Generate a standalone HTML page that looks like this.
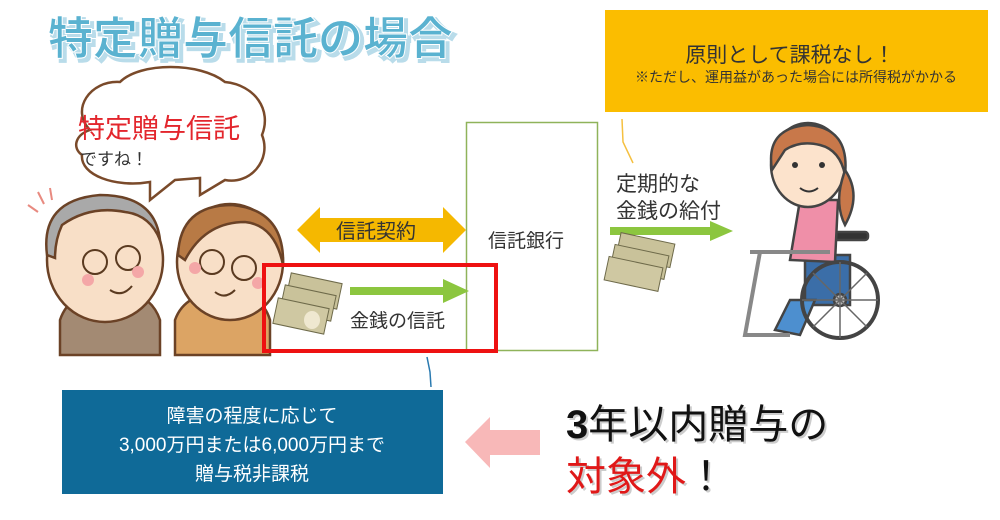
<!DOCTYPE html>
<html><head><meta charset="utf-8"><style>
html,body{margin:0;padding:0;background:#fff;}
svg{display:block;font-family:"Liberation Sans","Noto Sans CJK JP",sans-serif;}
</style></head><body>
<svg width="1000" height="520" viewBox="0 0 1000 520" xmlns="http://www.w3.org/2000/svg">
<!-- Title -->
<text x="48" y="54" font-size="45" font-weight="bold" fill="#b9dcea" stroke="#b9dcea" stroke-width="3" transform="translate(3,3)">特定贈与信託の場合</text>
<text x="48" y="54" font-size="45" font-weight="bold" fill="#5ab2d0" stroke="#fff" stroke-width="1">特定贈与信託の場合</text>

<!-- speech cloud -->
<path d="M90,130 C70,110 90,80 120,82 C140,62 200,62 225,82 C255,85 272,110 262,135 C272,160 250,185 225,180 L200,195 L200,178 L175,180 L150,200 L150,182 C115,188 80,175 82,155 C72,148 75,135 90,130 Z" fill="#fff" stroke="#7a4a2a" stroke-width="2.5"/>
<text x="78" y="138" font-size="27" fill="#e3262d">特定贈与信託</text>
<text x="80" y="165" font-size="17" fill="#333">ですね！</text>

<!-- people -->
<g stroke="#6b4226" stroke-width="2.5">
  <path d="M60,355 L60,320 Q70,290 110,290 Q150,290 160,320 L160,355 Z" fill="#a38a73"/>
  <ellipse cx="105" cy="260" rx="58" ry="62" fill="#f8dfc7"/>
  <path d="M47,255 Q40,200 100,195 Q155,195 160,240 Q150,215 125,212 Q90,205 62,225 Q55,240 55,258 Z" fill="#a9a9a9"/>
  <path d="M175,355 L175,320 Q185,292 225,292 Q262,292 270,320 L270,355 Z" fill="#dca464"/>
  <ellipse cx="230" cy="262" rx="53" ry="58" fill="#f8dfc7"/>
  <path d="M178,255 Q180,205 232,205 Q285,210 283,265 Q275,225 245,222 Q205,222 185,260 Z" fill="#b87a45"/>
</g>
<g fill="none" stroke="#5a3a20" stroke-width="2">
  <circle cx="95" cy="262" r="12"/><circle cx="128" cy="258" r="12"/>
  <circle cx="212" cy="262" r="12"/><circle cx="244" cy="268" r="12"/>
  <path d="M110,290 Q122,298 132,286"/><path d="M215,292 Q225,300 235,290"/>
</g>
<circle cx="88" cy="280" r="6" fill="#f4a7a7"/><circle cx="138" cy="272" r="6" fill="#f4a7a7"/>
<circle cx="195" cy="268" r="6" fill="#f4a7a7"/><circle cx="258" cy="283" r="6" fill="#f4a7a7"/>
<g stroke="#e88a80" stroke-width="2"><line x1="28" y1="205" x2="38" y2="212"/><line x1="38" y1="192" x2="44" y2="204"/><line x1="50" y1="188" x2="52" y2="200"/></g>

<!-- yellow double arrow -->
<polygon points="297,230 320,207 320,218 443,218 443,207 466,230 443,253 443,242 320,242 320,253" fill="#f5b800"/>
<text x="336" y="238" font-size="20" fill="#333">信託契約</text>

<!-- bank box -->
<rect x="466.5" y="122.5" width="131" height="228" fill="#fff" stroke="#8fb35a" stroke-width="1.5"/>
<text x="488" y="247" font-size="19" fill="#333">信託銀行</text>

<!-- red box -->
<rect x="264" y="265" width="232" height="86" fill="none" stroke="#ee1111" stroke-width="4"/>
<g stroke="#6e6a4a" stroke-width="1">
  <rect x="288" y="278" width="52" height="26" fill="#c9c29a" transform="rotate(12 314 291)"/>
  <rect x="282" y="290" width="52" height="26" fill="#c9c29a" transform="rotate(12 308 303)"/>
  <rect x="275" y="303" width="52" height="26" fill="#cfc8a2" transform="rotate(12 301 316)"/>
</g>
<ellipse cx="312" cy="320" rx="8" ry="9" fill="#efe8d0"/>
<polygon points="350,287 443,287 443,279 469,291 443,303 443,295 350,295" fill="#8cc63f"/>
<text x="350" y="327" font-size="19" fill="#333">金銭の信託</text>

<!-- yellow box -->
<rect x="605" y="10" width="383" height="102" fill="#fbbd00"/>
<text x="790" y="62" font-size="21" fill="#333" text-anchor="middle">原則として課税なし！</text>
<text x="796" y="82" font-size="14" fill="#333" text-anchor="middle">※ただし、運用益があった場合には所得税がかかる</text>
<polyline points="622,119 623,142 633,163" fill="none" stroke="#f5c040" stroke-width="1.5"/>

<text x="616" y="191" font-size="21" fill="#333">定期的な</text>
<text x="616" y="218" font-size="21" fill="#333">金銭の給付</text>
<polygon points="610,227 710,227 710,221 733,231 710,241 710,235 610,235" fill="#8cc63f"/>
<g stroke="#6e6a4a" stroke-width="1">
  <rect x="618" y="238" width="55" height="24" fill="#c9c29a" transform="rotate(12 645 250)"/>
  <rect x="612" y="250" width="55" height="24" fill="#c9c29a" transform="rotate(12 640 262)"/>
  <rect x="606" y="262" width="55" height="24" fill="#cfc8a2" transform="rotate(12 634 274)"/>
</g>

<!-- woman in wheelchair -->
<g stroke="#444" stroke-width="2.5">
  <rect x="830" y="232" width="38" height="8" rx="3" fill="#333"/>
  <path d="M805,255 L850,255 L850,305 L805,305 Z" fill="#3b6ea8"/>
  <path d="M800,200 L790,260 L835,262 L838,200 Z" fill="#ef8fa8"/>
  <path d="M790,300 L775,330 L800,335 L815,300 Z" fill="#4d8fcf"/>
  <circle cx="840" cy="300" r="38" fill="none" stroke="#444" stroke-width="4"/>
  <circle cx="840" cy="300" r="6" fill="#bbb"/>
  <path d="M750,252 L830,252 M760,252 L745,335 L790,335" fill="none" stroke="#888" stroke-width="4"/>
  <ellipse cx="808" cy="165" rx="37" ry="42" fill="#fce3cc"/>
  <path d="M772,170 Q765,128 808,125 Q850,128 845,175 Q840,150 820,145 Q800,140 785,150 Z" fill="#c8784a"/>
  <path d="M845,170 Q862,195 845,225 Q835,205 842,180 Z" fill="#c8784a"/>
</g>
<circle cx="795" cy="165" r="3" fill="#333"/><circle cx="822" cy="165" r="3" fill="#333"/>
<path d="M800,188 Q809,195 818,188" fill="none" stroke="#333" stroke-width="2"/>
<g stroke="#666" stroke-width="1.5"><line x1="840" y1="262" x2="840" y2="338"/><line x1="802" y1="300" x2="878" y2="300"/><line x1="813" y1="273" x2="867" y2="327"/><line x1="867" y1="273" x2="813" y2="327"/></g>

<!-- blue connector -->
<polyline points="427,357 430,372 431,387" fill="none" stroke="#2a7ab0" stroke-width="1.5"/>
<!-- blue box -->
<rect x="62" y="390" width="381" height="104" fill="#0f6a98"/>
<text x="252" y="422" font-size="19" fill="#fff" text-anchor="middle">障害の程度に応じて</text>
<text x="252" y="451" font-size="19" fill="#fff" text-anchor="middle">3,000万円または6,000万円まで</text>
<text x="252" y="480" font-size="19" fill="#fff" text-anchor="middle">贈与税非課税</text>

<!-- pink arrow -->
<polygon points="465,442 490,417 490,430 540,430 540,455 490,455 490,468" fill="#f8b8b8"/>

<text x="566" y="438" font-size="40" fill="#ccc" transform="translate(2,2)"><tspan font-weight="bold">3</tspan>年以内贈与の</text>
<text x="566" y="438" font-size="40" fill="#111"><tspan font-weight="bold">3</tspan>年以内贈与の</text>
<text x="566" y="490" font-size="40" fill="#ccc" transform="translate(2,2)">対象外！</text>
<text x="566" y="490" font-size="40" fill="#e01818">対象外<tspan fill="#111">！</tspan></text>
</svg>
</body></html>
